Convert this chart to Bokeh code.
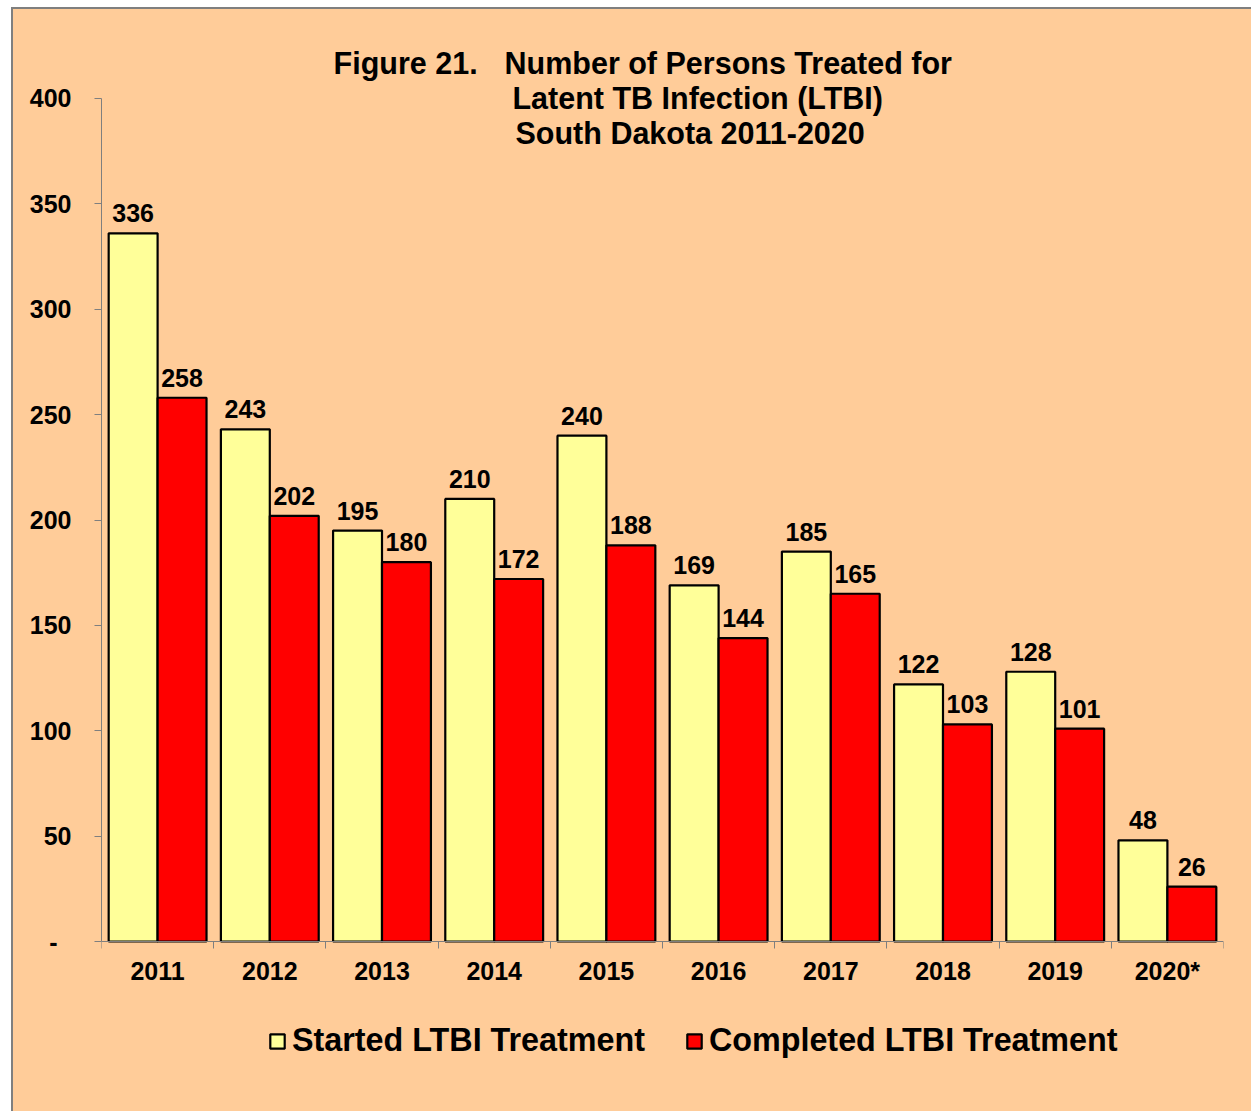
import numpy as np
from bokeh.plotting import figure
from bokeh.models import Legend, LegendItem, FixedTicker, Range1d, ColumnDataSource
from bokeh.core.properties import value
from bokeh.embed import file_html
from bokeh.resources import INLINE

# ---- data ----
years = ["2011", "2012", "2013", "2014", "2015", "2016", "2017", "2018", "2019", "2020*"]
started = [336, 243, 195, 210, 240, 169, 185, 122, 128, 48]
completed = [258, 202, 180, 172, 188, 144, 165, 103, 101, 26]
y_ticks = [0, 50, 100, 150, 200, 250, 300, 350, 400]
series_names = ["Started LTBI Treatment", "Completed LTBI Treatment"]
title_lines = ["Figure 21.", "Number of Persons Treated for",
               "Latent TB Infection (LTBI)", "South Dakota 2011-2020"]

FONT = "Liberation Sans"
BG = "#FFCC99"
AXIS = "#7f7f7f"
YELLOW = "#FFFF99"
RED = "#FF0000"

n = len(years)
centers = np.arange(n) + 0.5
off = 0.218
bw = 0.436

src = ColumnDataSource(dict(
    xs=centers - off, xc=centers + off,
    started=started, completed=completed,
    ls=[str(v) for v in started], lc=[str(v) for v in completed],
))

p = figure(width=1240, height=1104, x_range=Range1d(0, n), y_range=Range1d(-81.6, 437.0),
           output_backend="svg", toolbar_location=None,
           min_border_left=88, min_border_right=30, min_border_top=11, min_border_bottom=0,
           background_fill_color=None, border_fill_color=None, outline_line_color=None,
           margin=(7, 0, 0, 11),
           styles={"border-left": "2px solid #7f7f7f", "border-top": "2px solid #7f7f7f",
                   "background-color": BG})
p.xgrid.visible = False
p.ygrid.visible = False

r1 = p.vbar(x="xs", top="started", width=bw, source=src,
            fill_color=YELLOW, line_color="black", line_width=2.2)
r2 = p.vbar(x="xc", top="completed", width=bw, source=src,
            fill_color=RED, line_color="black", line_width=2.2)

common = dict(text_align="center", text_baseline="alphabetic", y_offset=-20,
              text_font=value(FONT), text_font_style="bold", text_font_size="25px",
              text_color="black")
p.text(x="xs", y="started", text="ls", source=src, **common)
p.text(x="xc", y="completed", text="lc", source=src, **common)

# title lines
tcommon = dict(text_align="left", text_baseline="middle", text_font=value(FONT),
               text_font_style="bold", text_font_size="30.5px", text_color="black")
p.text(x=[2.068], y=[416.6], text=[title_lines[0]], **tcommon)
p.text(x=[3.592], y=[416.6], text=[title_lines[1]], **tcommon)
p.text(x=[3.663], y=[400.3], text=[title_lines[2]], **tcommon)
p.text(x=[3.690], y=[383.4], text=[title_lines[3]], **tcommon)

# y axis
ya = p.yaxis[0]
ya.ticker = FixedTicker(ticks=y_ticks)
ya.bounds = (0, 400)
ya.axis_line_color = AXIS
ya.major_tick_line_color = AXIS
ya.major_tick_in = 0
ya.major_tick_out = 7
ya.minor_tick_line_color = None
ya.major_label_standoff = 23
ya.major_label_text_font = FONT
ya.major_label_text_font_style = "bold"
ya.major_label_text_font_size = "25px"
ya.major_label_text_color = "black"
ya.major_label_overrides = {0: "-\u2007"}

# x axis, pinned at y = 0 inside the frame
xa = p.xaxis[0]
xa.fixed_location = 0
xa.ticker = FixedTicker(ticks=list(centers), minor_ticks=list(range(n + 1)))
xa.axis_line_color = AXIS
xa.major_tick_line_color = None
xa.major_tick_in = 0
xa.major_tick_out = 0
xa.minor_tick_line_color = AXIS
xa.minor_tick_in = 0
xa.minor_tick_out = 7
xa.major_label_standoff = 8
xa.major_label_text_font = FONT
xa.major_label_text_font_style = "bold"
xa.major_label_text_font_size = "25px"
xa.major_label_text_color = "black"
xa.major_label_overrides = {float(c): y for c, y in zip(centers, years)}

legend = Legend(items=[LegendItem(label=series_names[0], renderers=[r1]),
                       LegendItem(label=series_names[1], renderers=[r2])],
                orientation="horizontal", location=(167, 54),
                glyph_width=18, glyph_height=18, label_standoff=6, spacing=40,
                padding=0, margin=0, border_line_color=None, background_fill_alpha=0,
                label_text_font=FONT, label_text_font_style="bold",
                label_text_font_size="32.3px", label_text_color="black")
p.add_layout(legend)

open("out.html", "w").write(file_html(p, INLINE))
